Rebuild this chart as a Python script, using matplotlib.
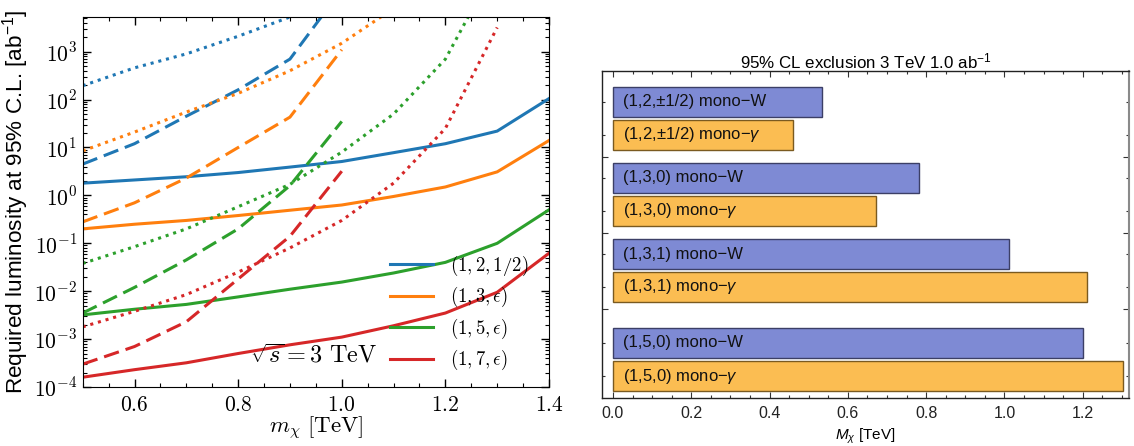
import matplotlib
matplotlib.use("Agg")
import matplotlib.pyplot as plt
import numpy as np
from matplotlib.ticker import FixedLocator, FuncFormatter, LogLocator, MultipleLocator

# ---------------- data (left panel) ----------------
mass = [0.5, 0.6, 0.7, 0.8, 0.9, 1.0, 1.1, 1.2, 1.3, 1.4]

blue_solid = [1.8, 2.1, 2.45, 3.0, 3.9, 5.1, 7.8, 12.0, 22.0, 105.0]
orange_solid = [0.2, 0.25, 0.3, 0.38, 0.49, 0.63, 0.95, 1.5, 3.1, 14.0]
green_solid = [3.2e-3, 4.2e-3, 5.3e-3, 7.6e-3, 0.011, 0.0155, 0.024, 0.04, 0.1, 0.5]
red_solid = [1.6e-4, 2.3e-4, 3.2e-4, 5.0e-4, 7.6e-4, 1.1e-3, 1.9e-3, 3.5e-3, 9.5e-3, 0.062]

blue_dashed = [4.5, 12.0, 45.0, 160.0, 700.0, 2.0e4]
orange_dashed = [0.28, 0.7, 2.3, 10.0, 43.0, 1100.0]
green_dashed = [3.5e-3, 0.012, 0.045, 0.2, 1.6, 35.0]
red_dashed = [3.0e-4, 7.0e-4, 2.3e-3, 0.018, 0.14, 3.2]

blue_dotted = [195.0, 460.0, 900.0, 2100.0, 5300.0, 1.5e4]
orange_dotted = [8.5, 21.0, 55.0, 135.0, 400.0, 1500.0, 8000.0]
green_dotted = [0.038, 0.085, 0.2, 0.58, 1.7, 8.0, 50.0, 700.0, 7.0e4]
red_dotted = [1.8e-3, 3.8e-3, 8.5e-3, 0.025, 0.08, 0.3, 1.8, 25.0, 3200.0]

legend_labels = [r"$(1,2,1/2)$", r"$(1,3,\epsilon)$", r"$(1,5,\epsilon)$", r"$(1,7,\epsilon)$"]
colors = ["#1f77b4", "#ff7f0e", "#2ca02c", "#d62728"]
x_ticks = [0.6, 0.8, 1.0, 1.2, 1.4]
y_tick_exponents = [-4, -3, -2, -1, 0, 1, 2, 3]

# ---------------- data (right panel) ----------------
models = ["(1,2,\u00b11/2)", "(1,3,0)", "(1,3,1)", "(1,5,0)"]
mono_W = [0.533, 0.782, 1.011, 1.2]
mono_gamma = [0.46, 0.671, 1.211, 1.302]
x2_ticks = [0.0, 0.2, 0.4, 0.6, 0.8, 1.0, 1.2]

plt.rcParams["mathtext.fontset"] = "cm"
plt.rcParams["mathtext.rm"] = "Liberation Sans"
plt.rcParams["mathtext.it"] = "Liberation Sans:italic"
plt.rcParams["mathtext.bf"] = "Liberation Sans:bold"

W, H = 1134, 446
fig = plt.figure(figsize=(W / 100, H / 100), dpi=100)

# ================= left panel =================
ax = fig.add_axes([82.7 / W, (H - 387) / H, (549 - 82.7) / W, (387 - 17.3) / H])
lw = 2.2
dash = (5.1, 2.3)
dot = (1.0, 1.6)
solids = [blue_solid, orange_solid, green_solid, red_solid]
dasheds = [blue_dashed, orange_dashed, green_dashed, red_dashed]
dotteds = [blue_dotted, orange_dotted, green_dotted, red_dotted]
handles = []
for c, s, d, o, lab in zip(colors, solids, dasheds, dotteds, legend_labels):
    h, = ax.plot(mass[:len(s)], s, color=c, lw=lw, label=lab)
    handles.append(h)
    ax.plot(mass[:len(d)], d, color=c, lw=lw, dashes=dash)
    ax.plot(mass[:len(o)], o, color=c, lw=lw, dashes=dot)

ax.set_yscale("log")
ax.set_xlim(0.5, 1.4)
ax.set_ylim(1e-4, 10 ** 3.718)
ax.xaxis.set_major_locator(FixedLocator(x_ticks))
ax.xaxis.set_minor_locator(FixedLocator(np.arange(0.5, 1.401, 0.05)))
ax.xaxis.set_major_formatter(FuncFormatter(lambda v, p: r"$%.1f$" % v))
ax.yaxis.set_major_locator(FixedLocator([10.0 ** e for e in y_tick_exponents]))
ax.yaxis.set_minor_locator(LogLocator(base=10, subs=np.arange(2, 10), numticks=20))
ax.yaxis.set_minor_formatter(FuncFormatter(lambda v, p: ""))
ax.yaxis.set_major_formatter(FuncFormatter(lambda v, p: r"$10^{%d}$" % round(np.log10(v))))
ax.tick_params(which="both", direction="in", top=True, right=True, labelsize=15.5)
ax.tick_params(which="major", length=6, width=1)
ax.tick_params(which="minor", length=3, width=0.8)
ax.tick_params(axis="x", pad=6)
ax.tick_params(axis="y", pad=4)
ax.set_xlabel(r"$m_\chi\ [\mathrm{TeV}]$", fontsize=16.5, labelpad=0)
ax.set_ylabel(r"Required luminosity at 95% C.L. [ab$^{-1}$]", fontsize=16.2,
              family="Liberation Sans", math_fontfamily="custom", labelpad=2)
leg = ax.legend(handles=handles, loc="lower left", bbox_to_anchor=(0.659, 0.04),
                frameon=False, fontsize=13.5, handlelength=2.3, handletextpad=0.9,
                labelspacing=0.39, borderpad=0.0, borderaxespad=0.0)
ax.text(0.632, 0.086, r"$\sqrt{s} = 3\ \mathrm{TeV}$", transform=ax.transAxes,
        ha="right", va="center", fontsize=17.5)

# ================= right panel =================
ax2 = fig.add_axes([602 / W, (H - 398) / H, (1129 - 602) / W, (398 - 71) / H])
# layout (pixels from axes top): first-bar centres of each group, in-group pitch, bar height
group_first = [30.7, 106.7, 183.0, 272.0]
pitch = 33.0
bar_h = 30.0
separators = [85.5, 161.7, 238.0]
c_W = "#7e8ad4"
c_g = "#fbbd52"
ytick_pos = []
for i, m in enumerate(models):
    yW = group_first[i]
    yg = group_first[i] + pitch
    ax2.barh(yW, mono_W[i], height=bar_h, color=c_W, edgecolor="#3c3f66", lw=1.0)
    ax2.barh(yg, mono_gamma[i], height=bar_h, color=c_g, edgecolor="#7a5a20", lw=1.0)
    ax2.annotate(m + " mono\u2212W", (0, yW), xytext=(7.5, 0), textcoords="offset points",
                 va="center", ha="left", fontsize=12, family="Liberation Sans", color="#111")
    ax2.annotate(m + " mono\u2212$\\gamma$", (0, yg), xytext=(7.5, 0), textcoords="offset points",
                 va="center", ha="left", fontsize=12, family="Liberation Sans",
                 math_fontfamily="custom", color="#111")
    ytick_pos += [yW, yg]
ax2.set_xlim(-0.028, 1.318)
ax2.set_ylim(327, 0)
ax2.yaxis.set_major_locator(FixedLocator(separators))
ax2.yaxis.set_minor_locator(FixedLocator(ytick_pos))
ax2.yaxis.set_major_formatter(FuncFormatter(lambda v, p: ""))
ax2.xaxis.set_major_locator(FixedLocator(x2_ticks))
ax2.xaxis.set_minor_locator(FixedLocator(np.arange(0.0, 1.301, 0.05)))
ax2.xaxis.set_major_formatter(FuncFormatter(lambda v, p: "%.1f" % v))
ax2.tick_params(which="both", direction="in", top=True, right=True, colors="#333",
                labelsize=11.5, labelcolor="#222")
ax2.tick_params(which="major", length=4.5, width=0.8)
ax2.tick_params(which="minor", length=2.5, width=0.8)
ax2.tick_params(axis="x", pad=6)
for t in ax2.get_xticklabels():
    t.set_family("Liberation Sans")
for side in ["left", "bottom", "top"]:
    ax2.spines[side].set_color("#222")
    ax2.spines[side].set_linewidth(1.0)
ax2.spines["right"].set_color("#8a8a8a")
ax2.spines["right"].set_linewidth(1.5)
ax2.set_title("95% CL exclusion 3 TeV 1.0 ab$^{-1}$", fontsize=12.2,
              family="Liberation Sans", math_fontfamily="custom", pad=2)
ax2.set_xlabel(r"$M_\chi$ [TeV]", fontsize=11, family="Liberation Sans",
               math_fontfamily="custom", labelpad=4)

fig.savefig("out.png", dpi=100)
